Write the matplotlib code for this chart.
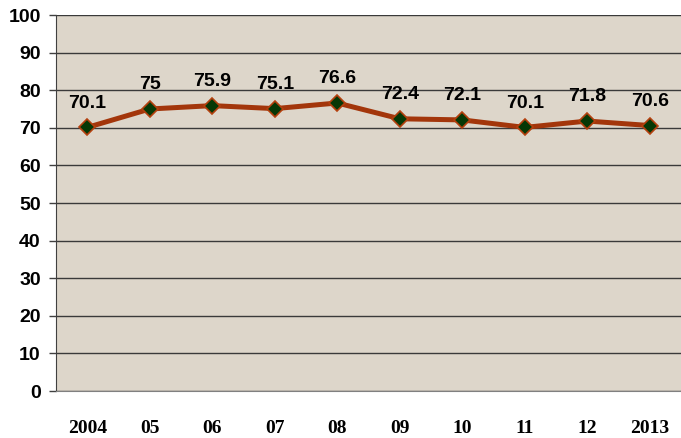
import numpy as np
import matplotlib.pyplot as plt

# datos
years = ['2004', '05', '06', '07', '08', '09', '10', '11', '12', '2013']
values = [70.1, 75, 75.9, 75.1, 76.6, 72.4, 72.1, 70.1, 71.8, 70.6]
value_labels = ['70.1', '75', '75.9', '75.1', '76.6', '72.4', '72.1', '70.1', '71.8', '70.6']
yticks = [0, 10, 20, 30, 40, 50, 60, 70, 80, 90, 100]

fig = plt.figure(figsize=(6.81, 4.38), dpi=100)
ax = fig.add_axes([56/681, 1 - 391/438, 625/681, 376/438])
ax.set_facecolor('#ddd6ca')

x = np.arange(len(years))
ax.plot(x, values, color='#a3360b', linewidth=3.6, zorder=3,
        marker='D', markersize=8, markerfacecolor='#063806',
        markeredgecolor='#b4400e', markeredgewidth=1.2)

for xi, v, lab in zip(x, values, value_labels):
    ax.annotate(lab, (xi, v), xytext=(0, 17.5), textcoords='offset points',
                ha='center', va='center', fontsize=14, fontweight='bold',
                family='Liberation Sans', zorder=4)

ax.set_xlim(-0.5, len(years) - 0.5)
ax.set_ylim(0, 100)
ax.set_yticks(yticks)
ax.set_yticklabels([str(t) for t in yticks], fontsize=14, fontweight='bold',
                   family='Liberation Sans')
ax.set_xticks(x)
ax.set_xticklabels(years, fontsize=14, fontweight='bold', family='Liberation Serif')
ax.tick_params(axis='x', length=0, pad=21)
ax.tick_params(axis='y', length=5, width=1, color='#404040', pad=6)

ax.yaxis.grid(True, color='#3a3a3a', linewidth=1)
ax.set_axisbelow(True)
for s in ['top', 'right']:
    ax.spines[s].set_visible(False)
ax.spines['left'].set_color('#404040')
ax.spines['bottom'].set_color('#808080')

plt.savefig('out.png', dpi=100)
